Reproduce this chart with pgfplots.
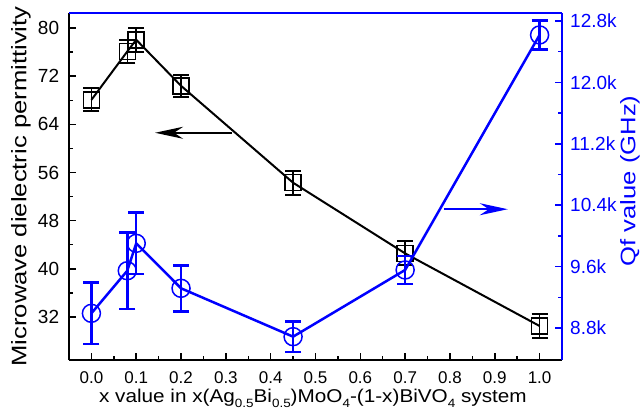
\documentclass[border=0pt]{standalone}
\usepackage{pgfplots}
\pgfplotsset{compat=1.18}
\usepackage{fontspec}
\setmainfont{Liberation Sans}
\usetikzlibrary{arrows.meta}
\definecolor{qblue}{RGB}{0,0,255}
\newcommand\sub[1]{\raisebox{-4.5pt}{\fontsize{12}{12}\selectfont #1}}
\begin{document}
\begin{tikzpicture}
\useasboundingbox (-69pt,-49pt) rectangle (575pt,360pt);
\pgfplotsset{
 every axis/.append style={
  scale only axis, width=493pt, height=347pt,
  xmin=-0.05, xmax=1.05,
  tick align=inside,
  major tick length=7pt, minor tick length=4pt,
  every tick/.style={line width=1.5pt},
  axis line style={line width=2.5pt,-},
  /pgf/number format/assume math mode=true,
  xticklabel style={font=\fontsize{17}{19}\selectfont},
  yticklabel style={font=\fontsize{19}{21}\selectfont},
 }
}
\begin{axis}[
 axis x line*=bottom, axis y line*=left,
 ymin=24.85, ymax=82.5,
 xtick={0,0.1,0.2,0.3,0.4,0.5,0.6,0.7,0.8,0.9,1.0}, minor x tick num=1,
 xticklabel style={anchor=base, yshift=-23.3pt, /pgf/number format/.cd, fixed, fixed zerofill, precision=1},
 ytick={32,40,48,56,64,72,80}, minor y tick num=1,
 yticklabel style={anchor=east, inner sep=0pt, xshift=-9.7pt},
 xlabel={\scalebox{1.12}[1]{x value in x(Ag\sub{0.5}Bi\sub{0.5})MoO\sub{4}-(1-x)BiVO\sub{4} system}},
 xlabel style={font=\fontsize{18.5}{21}\selectfont, at={(axis description cs:0.4947,-0.123)}, anchor=base, inner sep=0pt},
 ylabel={\scalebox{1.22}[1]{Microwave dielectric permittivity}},
 ylabel style={font=\fontsize{21}{23}\selectfont, at={(axis description cs:-0.0974,0.5)}, anchor=center, inner sep=0pt},
]
\addplot[black, line width=2pt, mark=square, mark size=8pt,
  mark options={fill=white, line width=1.5pt},
  error bars/.cd, y dir=both, y explicit,
  error bar style={line width=1.5pt},
  error mark options={rotate=90, mark size=8pt, line width=2pt}]
 coordinates {
 (0,68.07) +- (0,1.9)
 (0.08,76.1) +- (0,1.9)
 (0.1,78.05) +- (0,1.95)
 (0.2,70.4) +- (0,1.85)
 (0.45,54.3) +- (0,2)
 (0.7,42.56) +- (0,2)
 (1.0,30.5) +- (0,2)
 };
\draw[line width=2pt, -{Stealth[length=28pt,width=12pt,inset=9pt]}] (axis cs:0.313,62.6) -- (axis cs:0.142,62.6);
\draw[qblue, line width=2pt, -{Stealth[length=28pt,width=12pt,inset=9pt]}] (axis cs:0.787,49.9) -- (axis cs:0.929,49.9);
\end{axis}
\begin{axis}[
 axis y line*=right, axis x line=none,
 ymin=8383, ymax=12904,
 scaled y ticks=false,
 ytick={8800,9600,10400,11200,12000,12800},
 yticklabels={8.8k,9.6k,10.4k,11.2k,12.0k,12.8k},
 minor y tick num=1,
 y axis line style={qblue}, ytick style={qblue},
 yticklabel style={text=qblue, anchor=west, inner sep=0pt, xshift=8pt},
 ylabel={\scalebox{1.22}[1]{Qf value (GHz)}},
 ylabel style={text=qblue, font=\fontsize{21}{23}\selectfont, at={(axis description cs:1.138,0.516)}, anchor=center, inner sep=0pt},
]
\draw[qblue, line width=2.5pt] (rel axis cs:0,1) -- (rel axis cs:1,1);
\addplot[qblue, line width=2.5pt, mark=o, mark size=9pt,
  mark options={fill=white, line width=1.5pt},
  error bars/.cd, y dir=both, y explicit,
  error bar style={line width=2.5pt},
  error mark options={rotate=90, mark size=8pt, line width=2.5pt}]
 coordinates {
 (0,8991) +- (0,400)
 (0.08,9546) +- (0,500)
 (0.1,9903) +- (0,400)
 (0.2,9317) +- (0,300)
 (0.45,8687) +- (0,200)
 (0.7,9556) +- (0,180)
 (1.0,12618) +- (0,190)
 };
\end{axis}
\end{tikzpicture}
\end{document}
